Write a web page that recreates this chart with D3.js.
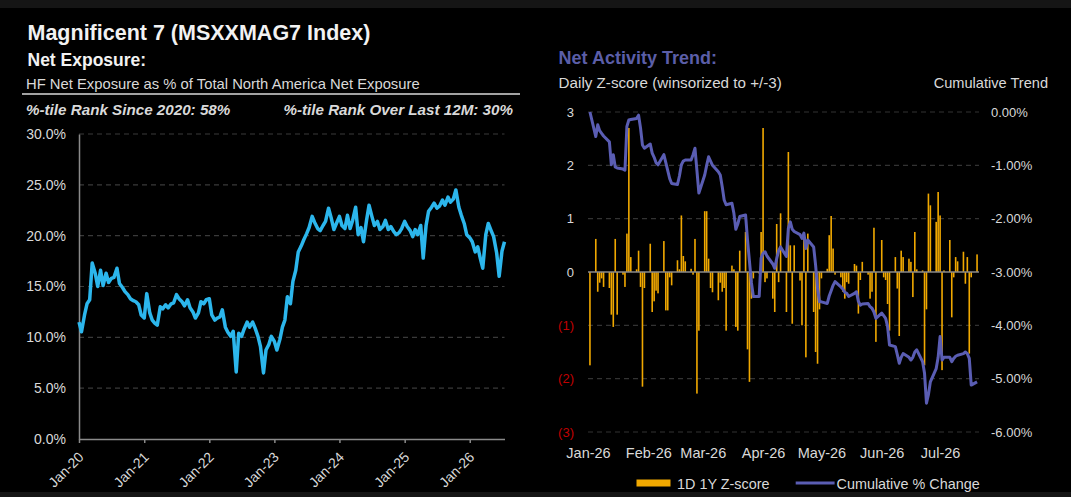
<!DOCTYPE html>
<html><head><meta charset="utf-8">
<script src="https://cdn.jsdelivr.net/npm/d3@7/dist/d3.min.js"></script>
<style>
html,body{margin:0;padding:0;background:#000;}
svg{display:block;}
text{font-family:"Liberation Sans",Arial,sans-serif;}
</style></head><body>
<svg id="c" width="1071" height="497"></svg>
<script>
// ---------- Left chart: HF Net Exposure (% of total NA net exposure), semi-monthly ----------
const exp2020 = [11.5,10.55,12.2,13.3,13.7,17.3,16.3,15.0,16.6,15.1,16.3,15.4,15.8,15.9,16.8,15.3,14.9,14.5,14.2,13.8,13.6,13.5,13.2,12.2];
const exp2021 = [11.9,14.3,12.4,11.7,11.4,11.2,13.0,12.8,13.2,12.9,13.3,13.4,14.2,13.8,13.5,13.1,13.7,12.9,12.5,11.9,12.4,13.5,13.3,13.7];
const exp2022 = [13.8,12.2,11.7,11.9,12.0,12.7,11.0,10.5,10.1,10.6,6.6,10.4,10.1,10.8,11.5,11.0,11.5,10.9,10.1,9.1,6.5,8.75,9.3,10.1];
const exp2023 = [9.6,8.75,9.8,11.0,11.7,14.0,13.3,15.5,16.6,18.4,19.0,19.6,20.2,20.8,21.9,21.3,20.7,20.5,21.0,21.4,22.7,21.8,20.6,21.2];
const exp2024 = [21.9,21.0,20.7,22.0,20.7,21.5,22.8,20.1,20.8,19.4,21.5,23.0,21.9,21.0,21.4,20.6,20.9,21.5,20.6,20.9,20.4,20.1,20.3,20.7];
const exp2025 = [21.4,20.9,20.5,19.9,20.6,20.1,21.0,17.8,21.0,22.4,22.8,23.2,22.7,22.9,23.5,23.0,23.8,23.3,23.6,24.5,22.8,22.0,21.2,20.1];
const exp2026 = [19.8,19.4,18.4,18.9,17.8,16.8,20.1,21.2,20.5,19.9,18.3,16.0,18.5,19.4];
const expYears = [2020,2021,2022,2023,2024,2025,2026];
const expTicks = [0,5,10,15,20,25,30];
const expXTickYears = [2020,2021,2022,2023,2024,2025,2026];

// ---------- Right chart: daily Z-score bars and cumulative % change (trading days 2026) ----------
const zJan = [-1.75,0.62,-0.37,-0.2,-0.12,-0.28,-0.3,-0.8,-1.03,0.62,-0.8,-0.05,-0.28,0.72,2.7,0.28,0.05,0.4,-0.28,-2.15,-0.3];
const zFeb = [0.53,-0.75,-0.55,-0.35,-0.4,0.58,-0.72,-0.72,-0.1,-0.25,0.22,0.05,1.06,0.3,0.2,0.06,-0.05,0.62,-2.28,-1.1];
const zMar = [1.14,1.14,0.25,-0.3,-0.38,-0.53,-0.2,-0.37,-0.3,-1.1,0.12,0.05,-1.03,-1.1,0.4,0.75,-1.45,-2.06,-0.5,-0.12,-0.03,0.75];
const zApr = [2.7,-0.19,-0.12,-0.5,-0.75,0.9,-0.19,1.1,-0.75,2.25,0.5,-0.97,0.5,-0.16,-1.0,0.72,-1.6,0.72,-0.75,-1.5,-1.72,-0.7];
const zMay = [-0.12,0.06,0.69,1.05,0.44,-0.05,-0.1,-0.37,-0.5,-0.19,-0.22,0.15,0.12,-0.78,-0.15,0.19,-0.05,-0.5,-0.37,0.83,-1.31];
const zJun = [0.6,-0.1,-0.15,-0.6,-1.1,0.28,-0.31,-1.2,0.4,0.28,0.25,0.19,-0.47,0.75,0.05,0.03,-1.75,-0.7,1.47,1.25,0.94,1.5];
const zJul = [1.06,-1.84,0.03,0.6,-0.85,-0.1,0.28,0.2,0.38,-0.22,0.28,-1.53,-0.1,0.33];

const cumJan = [0.0,-0.46,-0.24,-0.35,-0.4,-0.45,-0.56,-0.99,-0.8,-1.03,-1.05,-1.07,-1.09,-0.27,-0.15,-0.14,-0.12,-0.06,-0.3,-0.62,-0.68];
const cumFeb = [-0.6,-0.77,-0.85,-0.95,-0.99,-0.8,-0.95,-1.1,-1.25,-1.34,-1.36,-1.2,-0.99,-0.92,-0.9,-0.9,-0.8,-0.68,-1.1,-1.52];
const cumMar = [-1.18,-1.0,-0.84,-0.92,-1.0,-1.12,-1.18,-1.4,-1.65,-1.74,-1.71,-1.9,-2.2,-2.1,-1.96,-1.93,-2.4,-2.8,-3.2,-3.46,-3.46,-2.74];
const cumApr = [-2.65,-2.62,-2.7,-2.85,-2.93,-2.75,-2.6,-2.53,-2.71,-2.18,-2.06,-2.2,-2.24,-2.3,-2.37,-2.27,-2.56,-2.4,-2.53,-2.87,-3.3,-3.56];
const cumMay = [-3.56,-3.59,-3.45,-3.35,-3.25,-3.18,-3.28,-3.32,-3.38,-3.4,-3.46,-3.4,-3.37,-3.55,-3.62,-3.6,-3.59,-3.65,-3.68,-3.75,-3.87];
const cumJun = [-3.77,-3.82,-3.87,-4.02,-4.37,-4.4,-4.55,-4.71,-4.6,-4.53,-4.6,-4.65,-4.6,-4.5,-4.46,-4.68,-4.9,-5.46,-5.3,-5.06,-4.81,-4.6];
const cumJul = [-4.21,-4.65,-4.6,-4.6,-4.68,-4.62,-4.58,-4.56,-4.53,-4.5,-4.53,-4.62,-5.12,-5.06];

const monthStartDay = [2,1,1,1,1,1,1]; // first trading day offset per month (Jan 1 holiday)
const zMonths = [zJan,zFeb,zMar,zApr,zMay,zJun,zJul];
const cumMonths = [cumJan,cumFeb,cumMar,cumApr,cumMay,cumJun,cumJul];
const zTicks = [-3,-2,-1,0,1,2,3];
const cumTicks = [-6,-5,-4,-3,-2,-1,0];
const monthLabels = ["Jan-26","Feb-26","Mar-26","Apr-26","May-26","Jun-26","Jul-26"];

// ---------- build tables ----------
const expData = [];
expYears.forEach((yr, yi) => {
  const arr = [exp2020,exp2021,exp2022,exp2023,exp2024,exp2025,exp2026][yi];
  arr.forEach((v, i) => expData.push({d: new Date(yr, Math.floor(i/2), i%2===0?1:15), v}));
});
const dayData = [];
zMonths.forEach((arr, m) => {
  let d = new Date(2026, m, monthStartDay[m]);
  let k = 0;
  while (k < arr.length) {
    const w = d.getDay();
    if (w !== 0 && w !== 6) { dayData.push({d: new Date(d), z: arr[k], c: cumMonths[m][k]}); k++; }
    d.setDate(d.getDate()+1);
  }
});

const svg = d3.select("#c");
svg.append("rect").attr("width",1071).attr("height",497).attr("fill","#000");
svg.append("rect").attr("width",1071).attr("height",8).attr("fill","#151515");
svg.append("rect").attr("y",492).attr("width",1071).attr("height",5).attr("fill","#151515");

const txt = "#d9d9d9";
// ---------- headers ----------
svg.append("text").attr("x",27.5).attr("y",40).attr("font-size",21.5).attr("font-weight","bold").attr("fill","#f2f2f2").text("Magnificent 7 (MSXXMAG7 Index)");
svg.append("text").attr("x",27.5).attr("y",66).attr("font-size",17.5).attr("font-weight","bold").attr("fill","#f2f2f2").text("Net Exposure:");
svg.append("text").attr("x",26).attr("y",89).attr("font-size",14.8).attr("fill",txt).text("HF Net Exposure as % of Total North America Net Exposure");
svg.append("line").attr("x1",22).attr("x2",520).attr("y1",94).attr("y2",94).attr("stroke","#d9d9d9").attr("stroke-width",1.5);
svg.append("text").attr("x",26).attr("y",115).attr("font-size",15.2).attr("font-weight","bold").attr("font-style","italic").attr("fill",txt).text("%-tile Rank Since 2020: 58%");
svg.append("text").attr("x",513).attr("y",115).attr("text-anchor","end").attr("font-size",15.2).attr("font-weight","bold").attr("font-style","italic").attr("fill",txt).text("%-tile Rank Over Last 12M: 30%");

svg.append("text").attr("x",558.6).attr("y",64).attr("font-size",18).attr("font-weight","bold").attr("fill","#5b5ea8").text("Net Activity Trend:");
svg.append("text").attr("x",558.6).attr("y",88).attr("font-size",15.2).attr("fill",txt).text("Daily Z-score (winsorized to +/-3)");
svg.append("text").attr("x",1048).attr("y",88).attr("text-anchor","end").attr("font-size",14.6).attr("fill",txt).text("Cumulative Trend");

// ---------- left chart ----------
const xL = d3.scaleTime().domain([new Date(2020,0,1), new Date(2026,6,15)]).range([79, 504.5]);
const yL = d3.scaleLinear().domain([0,30]).range([439,134]);
const gL = svg.append("g");
gL.selectAll("line.grid").data(expTicks.filter(t=>t>0)).join("line")
  .attr("x1",79).attr("x2",504.5).attr("y1",d=>yL(d)).attr("y2",d=>yL(d))
  .attr("stroke","#3a3a3a").attr("stroke-width",1.2).attr("stroke-dasharray","5,4");
const axL = gL.append("g").attr("transform","translate(79,0)")
  .call(d3.axisLeft(yL).tickValues(expTicks).tickSize(0).tickSizeOuter(0).tickPadding(13).tickFormat(d=>d.toFixed(1)+"%"));
axL.select(".domain").attr("stroke","#8a8a8a").attr("stroke-width",1.5);
axL.selectAll("text").attr("fill",txt).attr("font-size",14).attr("font-family","Liberation Sans, Arial, sans-serif");
const axB = gL.append("g").attr("transform","translate(0,439)")
  .call(d3.axisBottom(xL).tickValues(expXTickYears.map(y=>new Date(y,0,1))).tickSize(4).tickSizeOuter(0).tickFormat(d3.timeFormat("%b-%y")));
axB.select(".domain").attr("stroke","#8a8a8a").attr("stroke-width",1.5);
axB.selectAll(".tick line").attr("stroke","#8a8a8a").attr("stroke-width",1.5);
axB.selectAll("text").attr("fill",txt).attr("font-size",14).attr("font-family","Liberation Sans, Arial, sans-serif")
  .attr("x",0).attr("y",0).attr("dy",0).attr("text-anchor","end").attr("transform","translate(5,19) rotate(-45)");
gL.append("path").datum(expData)
  .attr("d", d3.line().x(d=>xL(d.d)).y(d=>yL(d.v)))
  .attr("fill","none").attr("stroke","#2cb6ec").attr("stroke-width",3.5).attr("stroke-linejoin","round");

// ---------- right chart ----------
const xR = d3.scaleTime().domain([new Date(2026,0,1), new Date(2026,6,21)]).range([588, 979]);
const yZ = d3.scaleLinear().domain([-3,3]).range([432,112]);
const yC = d3.scaleLinear().domain([-6,0]).range([432,112]);
const gR = svg.append("g");
gR.selectAll("line.grid").data(zTicks.filter(t=>t!==0)).join("line")
  .attr("x1",588).attr("x2",979).attr("y1",d=>yZ(d)).attr("y2",d=>yZ(d))
  .attr("stroke","#333").attr("stroke-width",1.2).attr("stroke-dasharray","5,4");
const barColor = "#f0a800";
gR.selectAll("rect.bar").data(dayData).join("rect")
  .attr("x",d=>xR(d.d)-0.8).attr("width",1.6)
  .attr("y",d=>yZ(Math.max(0,d.z))).attr("height",d=>Math.abs(yZ(d.z)-yZ(0)))
  .attr("fill",barColor);
gR.append("line").attr("x1",588).attr("x2",979).attr("y1",yZ(0)).attr("y2",yZ(0)).attr("stroke","#8a8a8a").attr("stroke-width",1.5);
gR.append("path").datum(dayData)
  .attr("d", d3.line().x(d=>xR(d.d)).y(d=>yC(d.c)))
  .attr("fill","none").attr("stroke","#5a5db3").attr("stroke-width",3).attr("stroke-linejoin","round");

const axZ = gR.append("g").attr("transform","translate(588,0)")
  .call(d3.axisLeft(yZ).tickValues(zTicks).tickSize(0).tickPadding(14).tickFormat(d=>d<0?`(${-d})`:String(d)));
axZ.select(".domain").remove();
axZ.selectAll("text").attr("font-size",13).attr("font-family","Liberation Sans, Arial, sans-serif").attr("fill",d=>d<0?"#c00000":txt);
const axC = gR.append("g").attr("transform","translate(979,0)")
  .call(d3.axisRight(yC).tickValues(cumTicks).tickSize(0).tickPadding(12).tickFormat(d=>(d===0?"0.00":d.toFixed(2))+"%"));
axC.select(".domain").remove();
axC.selectAll("text").attr("font-size",13).attr("font-family","Liberation Sans, Arial, sans-serif").attr("fill",txt);
const axM = gR.append("g").attr("transform","translate(0,432)")
  .call(d3.axisBottom(xR).tickValues(monthLabels.map((_,i)=>new Date(2026,i,1))).tickSize(0).tickPadding(16).tickFormat((d,i)=>monthLabels[i]));
axM.select(".domain").remove();
axM.selectAll("text").attr("font-size",14.5).attr("font-family","Liberation Sans, Arial, sans-serif").attr("fill",txt);

// ---------- legend ----------
const lg = svg.append("g");
lg.append("rect").attr("x",636.5).attr("y",479.5).attr("width",34).attr("height",7).attr("fill",barColor);
lg.append("text").attr("x",677).attr("y",488.5).attr("font-size",14.4).attr("fill",txt).text("1D 1Y Z-score");
lg.append("line").attr("x1",795.7).attr("x2",834.6).attr("y1",483).attr("y2",483).attr("stroke","#5a5db3").attr("stroke-width",3);
lg.append("text").attr("x",836.5).attr("y",488.5).attr("font-size",14.4).attr("fill",txt).text("Cumulative % Change");
</script>
</body></html>
